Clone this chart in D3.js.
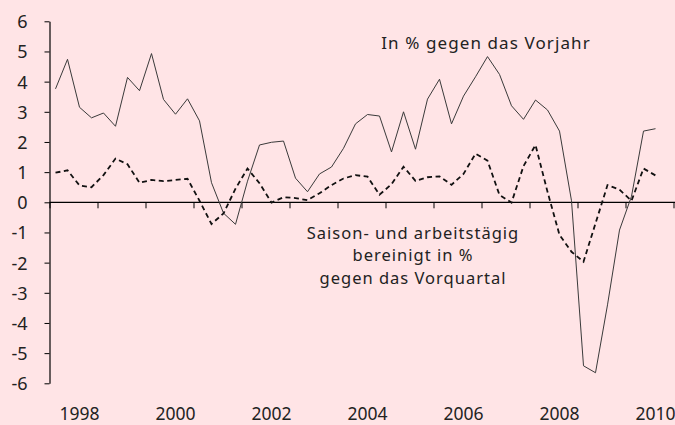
<!DOCTYPE html>
<html>
<head>
<meta charset="utf-8">
<script src="https://cdn.jsdelivr.net/npm/d3@7"></script>
<style>
  html, body { margin: 0; padding: 0; background: #ffe4e6; }
  svg { display: block; }
  text { font-family: "Noto Sans", sans-serif; fill: #222; }
</style>
</head>
<body>
<div class="plot"></div>
<script>
// GLOBAL VARIABLES
var w = 675;
var h = 425;

// quarterly data, 1998 Q1 .. 2010 Q3
var firstYear = 1998;
var yearLabels = [1998, 2000, 2002, 2004, 2006, 2008, 2010];
var yTicks = [6, 5, 4, 3, 2, 1, 0, -1, -2, -3, -4, -5, -6];

// In % gegen das Vorjahr
var yoy = [3.76, 4.74, 3.15, 2.80, 2.96, 2.52, 4.14, 3.70, 4.93, 3.41, 2.92, 3.43,
           2.70, 0.65, -0.36, -0.73, 0.70, 1.90, 1.99, 2.03, 0.80, 0.35, 0.94, 1.17,
           1.79, 2.60, 2.91, 2.86, 1.67, 3.00, 1.76, 3.42, 4.08, 2.60, 3.52, 4.16,
           4.83, 4.24, 3.20, 2.75, 3.39, 3.06, 2.36, 0.05, -5.42, -5.65, -3.40, -0.92,
           0.20, 2.36, 2.44];

// Saison- und arbeitstaegig bereinigt in % gegen das Vorquartal
var qoq = [0.98, 1.06, 0.56, 0.50, 0.90, 1.45, 1.26, 0.65, 0.74, 0.70, 0.74, 0.78,
           0.05, -0.72, -0.37, 0.45, 1.12, 0.63, -0.01, 0.17, 0.14, 0.07, 0.30, 0.57,
           0.79, 0.90, 0.85, 0.25, 0.60, 1.18, 0.71, 0.83, 0.86, 0.58, 0.94, 1.61,
           1.38, 0.24, -0.01, 1.20, 1.90, 0.35, -1.08, -1.64, -1.97, -0.70, 0.57, 0.42,
           0.05, 1.12, 0.89];

var svg = d3.select(".plot").append("svg").attr("width", w).attr("height", h);

// SCALES
var xScale = d3.scaleLinear()
  .domain([firstYear, firstYear + 13])
  .range([49.5, 673.5]);
var yScale = d3.scaleLinear()
  .domain([-6, 6])
  .range([383.3, 21.3]);

var qx = function (d, i) { return xScale(firstYear + (i + 0.5) / 4); };

// AXES
// y-axis
var yAxis = d3.axisLeft(yScale)
  .tickValues(yTicks)
  .tickSize(5)
  .tickSizeOuter(0)
  .tickFormat(d3.format("d"));
var gy = svg.append("g")
  .attr("transform", "translate(" + 49.5 + ",0)")
  .call(yAxis);
gy.select(".domain").attr("stroke", "#000").attr("stroke-width", 1.2);
gy.selectAll(".tick line").attr("stroke", "#000").attr("stroke-width", 1);
gy.selectAll(".tick text")
  .attr("x", -22)
  .attr("dy", "0.36em")
  .attr("font-size", "18px")
  .style("font-family", "'Noto Sans', sans-serif")
  .attr("fill", "#222")
  .text(function (d) { return String(d).replace("\u2212", "-"); });

// x-axis on the zero line, ticks at year boundaries
var yearTicks = d3.range(firstYear, firstYear + 14);
var xAxis = d3.axisBottom(xScale)
  .tickValues(yearTicks)
  .tickSize(6)
  .tickSizeOuter(0)
  .tickFormat("");
var gx = svg.append("g")
  .attr("transform", "translate(0," + yScale(0) + ")")
  .call(xAxis);
gx.select(".domain").attr("stroke", "#000").attr("stroke-width", 1.2)
  .attr("d", "M" + xScale(firstYear) + ",0H" + w);
gx.selectAll(".tick line").attr("stroke", "#000").attr("stroke-width", 1);

// year labels below the plot
svg.append("g").selectAll("text")
  .data(yearLabels)
  .enter()
  .append("text")
  .attr("x", function (d) { return xScale(d + 0.625); })
  .attr("y", 420)
  .attr("text-anchor", "middle")
  .attr("font-size", "17.5px")
  .text(function (d) { return d; });

// LINES
var line = d3.line()
  .x(qx)
  .y(function (d) { return yScale(d); });

svg.append("path")
  .datum(yoy)
  .attr("d", line)
  .attr("fill", "none")
  .attr("stroke", "#3a3a3a")
  .attr("stroke-width", 1);

svg.append("path")
  .datum(qoq)
  .attr("d", line)
  .attr("fill", "none")
  .attr("stroke", "#111")
  .attr("stroke-width", 1.8)
  .attr("stroke-dasharray", "5,3.5");

// LABELS
svg.append("text")
  .attr("x", 486)
  .attr("y", 49)
  .attr("text-anchor", "middle")
  .attr("font-size", "17px")
  .style("letter-spacing", "1.1px")
  .text("In % gegen das Vorjahr");

var note = ["Saison- und arbeitstägig", "bereinigt in %", "gegen das Vorquartal"];
svg.append("g").selectAll("text")
  .data(note)
  .enter()
  .append("text")
  .attr("x", 413)
  .attr("y", function (d, i) { return 238.5 + i * 22.5; })
  .attr("text-anchor", "middle")
  .attr("font-size", "16.5px")
  .style("letter-spacing", "1px")
  .text(function (d) { return d; });
</script>
</body>
</html>
